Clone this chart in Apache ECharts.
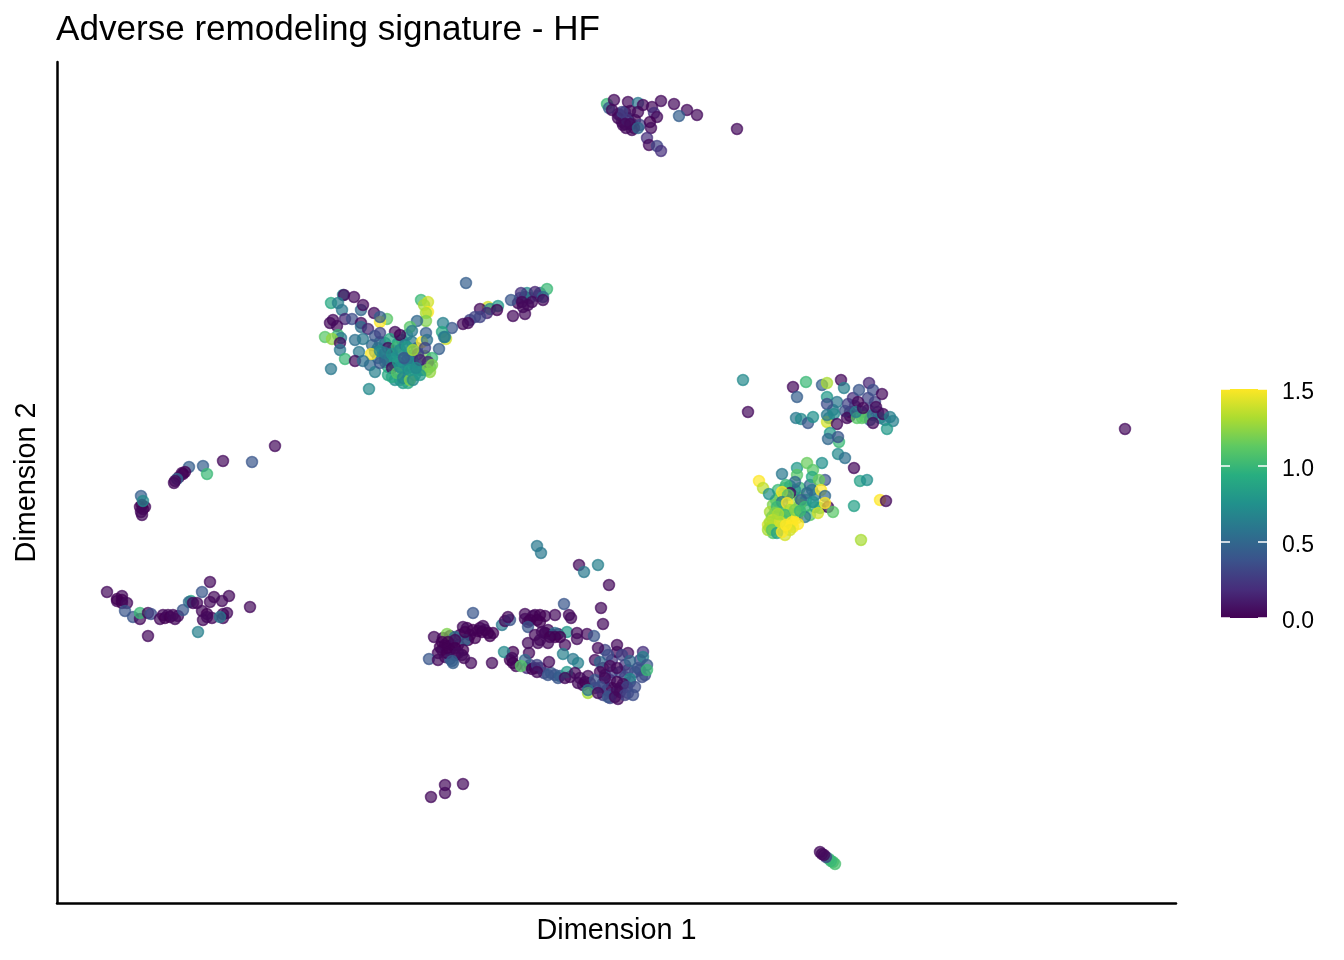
<!DOCTYPE html>
<html><head><meta charset="utf-8">
<script src="https://cdn.jsdelivr.net/npm/echarts@6/dist/echarts.min.js"></script>
<style>html,body{margin:0;padding:0;background:#fff}#c{width:1344px;height:960px}</style>
</head><body><div id="c"></div>
<script>
// Each point: [dimension 1, dimension 2, signature score]
const topCore = [[620,115,.04],[625,112,.2],[628,118,.25],[632,124,.2],[635,120,.04],[622,122,.04],[618,114,.15],[626,128,.04],[640,125,.3],[634,128,.04]];
const topCluster = [[607,104,1.0],[609,108,.45],[614,100,.04],[628,102,.04],[638,103,.6],[643,105,.04],[652,107,.04],[661,101,.04],[674,104,.04],[687,110,.04],[697,115,.04],[679,116,.45],[737,129,.04],[630,111,.04],[638,112,.04],[654,113,.2],[657,117,.04],[650,122,0],[651,128,.04],[618,118,.04],[622,112,.3],[612,110,.04],[623,125,.04],[632,130,.04],[627,120,.25],[625,124,.04],[630,124,.04],[638,128,.5],[647,138,.2],[649,145,.04],[657,146,.3],[661,151,.2]];
const middleArm = [[525,297,.04],[530,298,.3],[538,296,.3],[520,298,.4],[540,293,.5],[528,305,.04],[518,303,.04]];
const middleCore = [[398,352,.9],[408,358,.7],[392,358,.8],[385,357,.7],[412,367,.75],[388,367,.9],[402,368,.8],[400,380,.8],[422,370,.9],[430,367,1.1],[375,352,.6],[378,348,.7],[385,343,.6],[398,343,.8],[407,335,.8],[395,365,.9],[405,375,.75],[408,365,.7],[412,358,.8],[418,365,.75],[388,375,.9],[395,380,.75],[403,383,.8],[408,383,.9],[415,375,.75],[420,370,.8],[385,362,.85],[392,350,.7],[402,340,.7],[412,342,.6],[417,348,.5],[425,356,1.2],[430,372,1.25],[380,342,.55],[372,345,.5],[378,358,.6],[370,365,.5]];
const middleCluster = [[466,283,.45],[547,289,1.0],[511,300,.4],[527,293,.7],[521,293,.2],[535,292,.15],[543,297,.5],[543,300,.04],[522,302,.04],[532,302,.04],[523,307,.04],[513,316,.04],[525,314,.04],[488,307,1.4],[498,306,.8],[480,309,.04],[490,309,.7],[497,310,0],[487,313,.15],[480,317,.3],[475,317,.3],[470,320,.3],[463,324,.04],[468,323,.04],[452,328,.4],[443,323,.65],[442,332,.9],[446,339,1.4],[445,337,.7],[444,337,.6],[421,300,1.0],[428,302,1.4],[424,305,1.3],[428,312,1.5],[426,313,1.3],[426,321,1.2],[417,321,.5],[410,327,1.1],[412,331,.6],[426,333,.45],[422,342,1.5],[427,340,.55],[425,348,.3],[439,349,.45],[343,295,.7],[344,295,.04],[354,297,.04],[331,303,.9],[338,303,.65],[342,310,.6],[361,310,.5],[363,305,.04],[374,313,.04],[387,319,1.1],[380,322,1.5],[380,317,.45],[345,319,.15],[352,319,.35],[330,323,.04],[333,320,.04],[337,326,.04],[361,323,.04],[361,327,.55],[368,329,.15],[338,335,1.0],[325,337,1.1],[341,338,.6],[332,339,1.25],[340,343,.04],[340,350,.6],[345,359,1.0],[331,369,.6],[369,389,.7],[355,340,.55],[363,339,.6],[375,336,.4],[380,333,.3],[395,332,.04],[390,339,.9],[400,335,0],[388,348,.04],[359,352,.6],[371,354,1.5],[380,351,.7],[397,347,1.0],[355,361,.04],[363,361,.55],[375,372,.65],[380,363,.4],[387,360,.5],[395,360,.8],[385,353,.6],[392,354,.75],[400,350,.7],[405,345,.65],[407,347,.8],[410,356,.75],[418,354,.3],[413,363,.75],[420,360,.15],[432,358,1.0],[428,362,.15],[427,370,1.2],[432,365,1.2],[392,368,.04],[398,362,.8],[392,377,.9],[403,372,.6],[397,373,1.1],[403,378,.7],[410,380,1.2],[413,380,.7],[420,375,.8],[400,367,.75],[407,360,.6],[410,370,.8],[416,368,.7],[404,358,.4],[413,350,1.3]];
const rightUpperCore = [[850,412,.04],[855,406,.2],[862,412,.3],[868,410,.3],[875,402,.3],[868,398,.3],[878,412,.2],[885,420,.6],[862,418,1.1],[850,416,.04],[845,411,.4],[870,420,.5],[880,418,.7],[833,410,.6],[829,418,.7]];
const rightUpperCluster = [[743,380,.7],[748,412,.04],[793,387,.04],[806,382,1.0],[797,397,.45],[822,385,.45],[827,383,1.3],[841,380,.04],[844,388,.65],[827,397,.8],[837,402,.6],[827,404,.35],[796,418,.6],[801,419,.7],[808,423,.4],[813,417,.75],[827,422,1.4],[827,415,.6],[834,414,.7],[837,424,.04],[847,418,.04],[848,404,.3],[853,398,.2],[859,390,.4],[869,383,.15],[873,390,.35],[882,394,.04],[858,402,.04],[865,417,1.1],[857,418,1.1],[856,412,.65],[863,408,.04],[873,415,.55],[876,407,.04],[883,414,.04],[873,423,.04],[890,417,.65],[893,421,.65],[887,429,.8],[830,433,.8],[839,442,1.0],[828,439,.5],[838,437,.4],[838,454,.7],[845,458,.55],[854,468,.04],[860,481,.85],[867,480,.75],[880,500,1.5],[886,501,.04],[854,506,.85],[861,540,1.3]];
const rightLowerCore = [[773,505,1.2],[780,497,1.3],[770,512,1.3],[785,488,1.1],[778,490,1.0],[800,488,1.0],[815,495,.6],[810,485,.5],[792,500,1.3],[810,515,1.1],[768,525,1.4],[775,527,1.5],[785,535,1.4],[793,527,1.5],[798,512,1.3],[773,533,1.1],[787,518,1.4],[780,508,1.2],[770,528,1.3],[778,530,1.3],[783,527,1.45],[790,525,1.5],[795,516,1.4],[788,512,1.1],[780,515,1.2],[776,522,1.3],[772,517,1.2],[800,498,1.1],[806,500,.9],[815,507,.9],[790,486,.8],[783,497,1.2],[800,505,1.2],[820,508,1.0],[795,490,.7],[812,490,.6],[776,500,1.1],[770,527,1.4]];
const rightLowerCluster = [[759,481,1.5],[763,488,1.35],[769,494,.75],[782,474,.6],[797,468,.8],[807,463,1.15],[822,463,.75],[797,475,1.1],[813,470,1.1],[812,477,.9],[825,480,.4],[819,480,1.15],[795,482,.5],[786,485,1.0],[790,493,.04],[782,492,1.5],[788,495,1.1],[807,493,.5],[821,490,1.5],[825,496,.5],[828,507,.04],[833,512,1.1],[825,503,1.5],[818,513,1.4],[801,500,.45],[782,502,.6],[777,507,1.0],[787,503,1.5],[790,510,1.3],[805,507,1.0],[813,502,.75],[775,513,1.2],[785,515,1.0],[797,518,1.5],[805,517,.6],[773,520,1.4],[770,522,1.3],[792,522,1.5],[798,524,1.5],[768,530,1.3],[772,530,1.1],[777,533,.85],[790,530,1.4],[782,532,1.5],[780,522,1.4],[786,525,1.5],[778,514,1.3],[795,510,1.2],[800,511,1.0]];
const bottomLeftCore = [[443,638,0],[450,636,0],[445,645,0],[452,645,0],[458,645,0],[442,650,0],[450,650,0],[455,655,0],[445,657,.04],[450,659,.4],[453,663,.45],[460,635,0],[467,628,0],[470,635,0],[478,631,0],[480,628,0],[485,630,0],[490,636,0],[468,640,0],[462,655,.04]];
const bottomChainCore = [[513,652,0],[510,660,0],[516,666,.04],[530,665,.3],[527,668,.2],[535,668,.04],[540,668,.04],[544,673,.3],[551,673,.4],[558,678,.4],[570,677,.04],[580,678,.04],[583,685,.04],[528,622,.04],[533,616,0],[545,616,.04],[540,622,0],[535,615,.04],[545,633,0],[548,630,.04],[552,635,0],[558,634,.04],[540,640,.04]];
const bottomRightDense = [[603,668,.04],[605,675,.04],[612,672,.3],[610,680,.2],[620,672,.3],[628,670,.35],[635,672,.35],[612,688,.04],[620,688,.04],[607,690,.04],[612,694,.3],[620,692,.04],[630,682,.3],[640,660,.3],[645,675,.35],[605,650,.3],[612,660,.25],[625,665,.25],[590,683,.04],[595,688,.2],[603,695,.3],[628,693,.3],[618,699,.04],[610,698,.3],[640,670,.3]];
const bottomCluster = [[447,634,1.2],[434,637,.04],[455,637,.55],[465,640,.5],[463,627,.04],[465,632,0],[473,630,0],[483,626,.04],[482,632,0],[475,638,0],[493,633,0],[488,633,0],[473,613,.4],[442,642,0],[448,642,0],[455,640,.04],[440,647,0],[447,648,0],[455,648,0],[463,650,0],[438,653,.04],[447,653,0],[458,653,.04],[429,659,.4],[438,660,.04],[452,661,.45],[464,658,.04],[471,663,.04],[492,663,.04],[502,625,.6],[505,621,.04],[510,620,.4],[508,617,.04],[525,614,.04],[525,619,.04],[530,620,0],[540,615,0],[537,620,0],[555,615,.04],[569,615,.04],[571,618,.04],[564,604,.4],[601,608,.04],[603,624,.04],[528,627,.4],[535,635,.04],[542,632,.04],[545,633,.04],[555,633,.55],[567,632,.8],[555,637,0],[550,637,0],[560,637,0],[528,643,.04],[538,643,.04],[548,643,.04],[565,645,.04],[577,633,.04],[577,639,.04],[587,634,.04],[594,636,.4],[529,653,.04],[563,654,.65],[573,659,.6],[578,663,.65],[549,662,.04],[504,652,.7],[512,658,.04],[513,663,0],[525,660,.5],[521,666,1.1],[532,669,0],[537,665,.3],[537,672,.04],[548,675,.4],[555,675,.4],[560,676,.45],[567,672,.8],[565,678,.04],[575,673,.04],[578,683,.04],[585,682,0],[588,676,.04]];
const bottomRightCore = [[598,648,.04],[617,645,.04],[617,652,.04],[628,653,.04],[643,652,.2],[608,655,.35],[622,655,.3],[643,657,.65],[595,660,.04],[600,662,.5],[630,661,.5],[610,666,.04],[617,668,.04],[638,668,.4],[647,665,.4],[600,672,.04],[625,677,.3],[642,677,.35],[630,679,.7],[603,683,.3],[595,680,.4],[605,678,.04],[617,682,0],[623,684,.04],[627,687,.3],[635,687,.35],[600,687,.35],[588,693,1.3],[588,690,.6],[617,690,.04],[598,693,.04],[608,697,.4],[625,695,.3],[633,695,.35],[615,697,.04],[647,670,1.0]];
const bottomOutliers = [[537,546,.6],[541,553,.6],[579,565,.04],[584,572,.6],[598,565,.65],[609,585,.04],[431,797,.04],[445,785,.04],[445,793,.04],[463,784,.04],[1125,429,.04]];
const capsule = [[835,864,1.05],[833,862,1.05],[831,861,1.0],[829,859,1.0],[826,857,.3],[824,855,.04],[822,854,.04],[820,852,.04]];
const leftUpperCluster = [[275,446,.04],[223,461,.04],[252,462,.4],[203,466,.45],[207,474,1.0],[189,467,.45],[185,472,0],[182,473,.04],[183,474,0],[179,477,.04],[177,479,.5],[175,481,.04],[174,483,.04],[141,496,.45],[145,507,.04],[142,515,.04],[140,507,0],[142,505,0],[143,509,0],[141,512,.04],[143,501,.7]];
const leftLowerCluster = [[107,592,.04],[122,596,.04],[117,601,.04],[117,599,0],[122,600,0],[122,603,0],[127,603,.04],[125,611,.4],[133,617,.4],[140,619,.04],[140,613,1.0],[148,613,.04],[151,614,.35],[148,636,.04],[160,619,.04],[163,615,.04],[165,618,0],[168,615,.04],[170,617,0],[173,615,.04],[175,619,.04],[178,616,.04],[183,610,.4],[191,601,.9],[189,602,.5],[193,603,.04],[197,603,.04],[202,592,.4],[210,582,.04],[214,597,.04],[229,596,.04],[222,601,.04],[210,602,.04],[202,611,.04],[207,614,0],[207,617,.04],[203,620,.04],[212,618,.04],[223,618,.04],[227,613,.04],[223,614,.04],[220,617,.6],[250,607,.04],[198,632,.65]];
const tickLabelsLegend = ['0.0','0.5','1.0','1.5'];
const viridis = ['#440154','#472d7b','#3b528b','#2c728e','#21918c','#28ae80','#5ec962','#addc30','#fde725'];
const scoreMax = 1.5;

const points = [].concat(topCore, topCluster, middleArm, middleCore, middleCluster, rightUpperCore, rightUpperCluster, rightLowerCore, rightLowerCluster, bottomLeftCore, bottomChainCore, bottomRightDense, bottomCluster, bottomRightCore, bottomOutliers, capsule, leftUpperCluster, leftLowerCluster);
// Semi-transparent fill and outline, as the overlap gives each dot a darker ring
const styled = points.map(p => {
  const c = echarts.color.modifyAlpha(echarts.color.lerp(p[2] / scoreMax, viridis), 0.87);
  return {value: p, itemStyle: {color: c, borderColor: c, borderWidth: 1.5}};
});
const FONT = '"Liberation Sans", Arial, sans-serif';
const tickStyle = {show:true,inside:true,length:9,lineStyle:{color:'#fff',width:1.5}};
const hiddenLine = {show:true,lineStyle:{color:'rgba(0,0,0,0)'}};
const chart = echarts.init(document.getElementById('c'), null, {renderer:'canvas'});
chart.setOption({
  animation:false,
  backgroundColor:'#fff',
  title:{text:'Adverse remodeling signature - HF',left:56,top:13,padding:0,textStyle:{fontFamily:FONT,fontSize:35.1,fontWeight:'normal',color:'#000'}},
  grid:[{left:57,top:62,width:1119,height:841},{left:1221,top:389,width:46,height:229}],
  xAxis:[
    {type:'value',gridIndex:0,min:57,max:1176,position:'bottom',name:'Dimension 1',nameLocation:'middle',nameGap:14,
     nameTextStyle:{fontFamily:FONT,fontSize:28.8,color:'#000'},axisLine:{onZero:false,lineStyle:{color:'#000',width:2.5}},axisTick:{show:false},axisLabel:{show:false},splitLine:{show:false}},
    {type:'category',gridIndex:1,data:['score'],axisLine:{show:false},axisTick:{show:false},axisLabel:{show:false},splitLine:{show:false}}
  ],
  yAxis:[
    {type:'value',gridIndex:0,min:62,max:903,inverse:true,name:'Dimension 2',nameLocation:'middle',nameGap:15,nameRotate:90,
     nameTextStyle:{fontFamily:FONT,fontSize:28.8,color:'#000'},axisLine:{onZero:false,lineStyle:{color:'#000',width:2.5}},axisTick:{show:false},axisLabel:{show:false},splitLine:{show:false}},
    {type:'value',gridIndex:1,min:0,max:1.5,interval:0.5,position:'right',z:10,zlevel:1,axisLine:hiddenLine,
     axisTick:tickStyle,splitLine:{show:false},
     axisLabel:{margin:15,verticalAlign:'top',lineHeight:8,fontFamily:FONT,fontSize:23,color:'#000',formatter:v=>tickLabelsLegend[Math.round(v/0.5)]}},
    {type:'value',gridIndex:1,min:0,max:1.5,interval:0.5,position:'left',z:10,zlevel:1,axisLine:hiddenLine,
     axisTick:tickStyle,axisLabel:{show:false},splitLine:{show:false}}
  ],
  series:[
    {type:'scatter',xAxisIndex:0,yAxisIndex:0,data:styled,symbolSize:11,silent:true},
    {type:'bar',xAxisIndex:1,yAxisIndex:1,data:[1.5],barWidth:'100%',silent:true,
     itemStyle:{color:{type:'linear',x:0,y:1,x2:0,y2:0,colorStops:viridis.map((c,i)=>({offset:i/(viridis.length-1),color:c}))}}}
  ]
});
</script></body></html>
